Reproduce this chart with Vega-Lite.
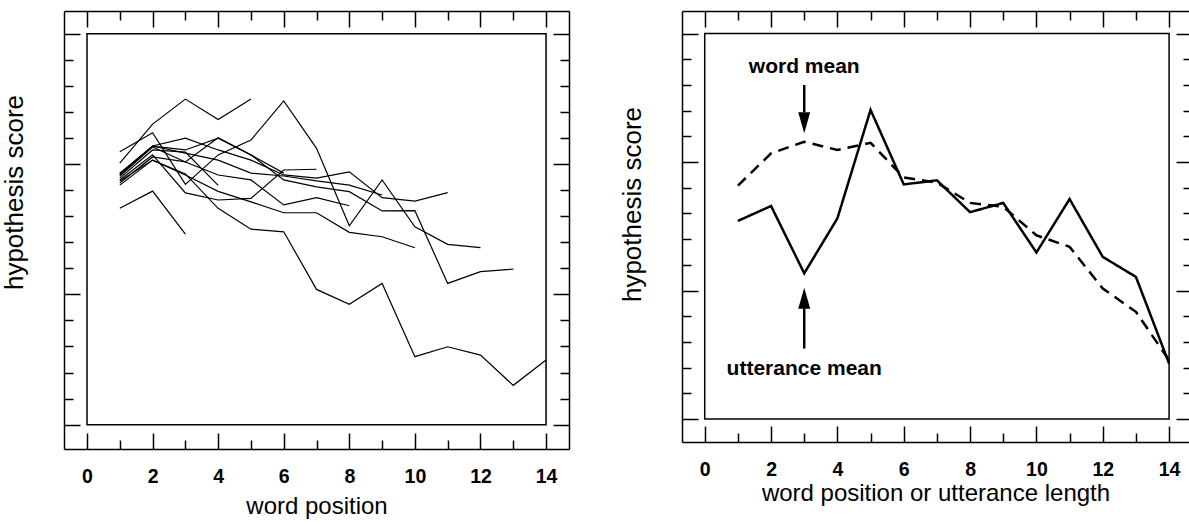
{
  "$schema": "https://vega.github.io/schema/vega-lite/v6.json",
  "padding": {"left": 1, "top": 10, "right": 0, "bottom": 0},
  "background": "white",
  "spacing": 49,
  "config": {
    "view": {"stroke": null},
    "font": "Liberation Sans",
    "axis": {
      "grid": false,
      "domainColor": "black",
      "domainWidth": 1.5,
      "tickColor": "black",
      "tickWidth": 1.5,
      "tickSize": -16,
      "labelColor": "black",
      "titleColor": "black",
      "labelFont": "Liberation Sans",
      "titleFont": "Liberation Sans",
      "labelFontWeight": "bold",
      "labelFontSize": 19.5,
      "titleFontSize": 24,
      "titleFontWeight": "normal",
      "labelFlush": false,
      "labelOverlap": false
    }
  },
  "datasets": {
    "utt": [
      {"L": 3, "pos": 1, "v": 8.30}, {"L": 3, "pos": 2, "v": 8.96}, {"L": 3, "pos": 3, "v": 7.31},
      {"L": 4, "pos": 1, "v": 9.46}, {"L": 4, "pos": 2, "v": 10.54}, {"L": 4, "pos": 3, "v": 10.46}, {"L": 4, "pos": 4, "v": 9.18},
      {"L": 5, "pos": 1, "v": 10.03}, {"L": 5, "pos": 2, "v": 11.53}, {"L": 5, "pos": 3, "v": 12.49}, {"L": 5, "pos": 4, "v": 11.71}, {"L": 5, "pos": 5, "v": 12.49},
      {"L": 6, "pos": 1, "v": 9.58}, {"L": 6, "pos": 2, "v": 10.69}, {"L": 6, "pos": 3, "v": 10.54}, {"L": 6, "pos": 4, "v": 10.99}, {"L": 6, "pos": 5, "v": 10.35}, {"L": 6, "pos": 6, "v": 9.65},
      {"L": 7, "pos": 1, "v": 9.39}, {"L": 7, "pos": 2, "v": 10.35}, {"L": 7, "pos": 3, "v": 8.89}, {"L": 7, "pos": 4, "v": 8.62}, {"L": 7, "pos": 5, "v": 8.68}, {"L": 7, "pos": 6, "v": 9.77}, {"L": 7, "pos": 7, "v": 9.80},
      {"L": 8, "pos": 1, "v": 9.54}, {"L": 8, "pos": 2, "v": 10.65}, {"L": 8, "pos": 3, "v": 10.08}, {"L": 8, "pos": 4, "v": 9.58}, {"L": 8, "pos": 5, "v": 9.39}, {"L": 8, "pos": 6, "v": 8.43}, {"L": 8, "pos": 7, "v": 8.71}, {"L": 8, "pos": 8, "v": 8.40},
      {"L": 9, "pos": 1, "v": 9.65}, {"L": 9, "pos": 2, "v": 10.69}, {"L": 9, "pos": 3, "v": 10.42}, {"L": 9, "pos": 4, "v": 10.15}, {"L": 9, "pos": 5, "v": 9.65}, {"L": 9, "pos": 6, "v": 9.54}, {"L": 9, "pos": 7, "v": 9.35}, {"L": 9, "pos": 8, "v": 9.19}, {"L": 9, "pos": 9, "v": 8.81},
      {"L": 10, "pos": 1, "v": 9.35}, {"L": 10, "pos": 2, "v": 10.15}, {"L": 10, "pos": 3, "v": 9.58}, {"L": 10, "pos": 4, "v": 8.95}, {"L": 10, "pos": 5, "v": 8.55}, {"L": 10, "pos": 6, "v": 8.13}, {"L": 10, "pos": 7, "v": 8.13}, {"L": 10, "pos": 8, "v": 7.38}, {"L": 10, "pos": 9, "v": 7.21}, {"L": 10, "pos": 10, "v": 6.79},
      {"L": 11, "pos": 1, "v": 9.62}, {"L": 11, "pos": 2, "v": 10.69}, {"L": 11, "pos": 3, "v": 10.99}, {"L": 11, "pos": 4, "v": 10.54}, {"L": 11, "pos": 5, "v": 10.15}, {"L": 11, "pos": 6, "v": 9.58}, {"L": 11, "pos": 7, "v": 9.46}, {"L": 11, "pos": 8, "v": 9.70}, {"L": 11, "pos": 9, "v": 8.71}, {"L": 11, "pos": 10, "v": 8.58}, {"L": 11, "pos": 11, "v": 8.90},
      {"L": 12, "pos": 1, "v": 10.47}, {"L": 12, "pos": 2, "v": 11.20}, {"L": 12, "pos": 3, "v": 9.22}, {"L": 12, "pos": 4, "v": 10.35}, {"L": 12, "pos": 5, "v": 10.92}, {"L": 12, "pos": 6, "v": 12.42}, {"L": 12, "pos": 7, "v": 10.60}, {"L": 12, "pos": 8, "v": 7.63}, {"L": 12, "pos": 9, "v": 9.39}, {"L": 12, "pos": 10, "v": 7.59}, {"L": 12, "pos": 11, "v": 6.92}, {"L": 12, "pos": 12, "v": 6.79},
      {"L": 13, "pos": 1, "v": 9.27}, {"L": 13, "pos": 2, "v": 10.27}, {"L": 13, "pos": 3, "v": 10.08}, {"L": 13, "pos": 4, "v": 11.01}, {"L": 13, "pos": 5, "v": 10.35}, {"L": 13, "pos": 6, "v": 9.39}, {"L": 13, "pos": 7, "v": 9.12}, {"L": 13, "pos": 8, "v": 8.94}, {"L": 13, "pos": 9, "v": 8.20}, {"L": 13, "pos": 10, "v": 8.21}, {"L": 13, "pos": 11, "v": 5.42}, {"L": 13, "pos": 12, "v": 5.87}, {"L": 13, "pos": 13, "v": 5.97},
      {"L": 14, "pos": 1, "v": 9.19}, {"L": 14, "pos": 2, "v": 10.15}, {"L": 14, "pos": 3, "v": 9.62}, {"L": 14, "pos": 4, "v": 8.30}, {"L": 14, "pos": 5, "v": 7.50}, {"L": 14, "pos": 6, "v": 7.40}, {"L": 14, "pos": 7, "v": 5.19}, {"L": 14, "pos": 8, "v": 4.62}, {"L": 14, "pos": 9, "v": 5.42}, {"L": 14, "pos": 10, "v": 2.61}, {"L": 14, "pos": 11, "v": 2.99}, {"L": 14, "pos": 12, "v": 2.67}, {"L": 14, "pos": 13, "v": 1.51}, {"L": 14, "pos": 14, "v": 2.48}
    ],
    "means": [
      {"series": "utterance mean", "pos": 1, "v": 7.71}, {"series": "utterance mean", "pos": 2, "v": 8.29}, {"series": "utterance mean", "pos": 3, "v": 5.67}, {"series": "utterance mean", "pos": 4, "v": 7.81}, {"series": "utterance mean", "pos": 5, "v": 12.03}, {"series": "utterance mean", "pos": 6, "v": 9.13}, {"series": "utterance mean", "pos": 7, "v": 9.29}, {"series": "utterance mean", "pos": 8, "v": 8.05}, {"series": "utterance mean", "pos": 9, "v": 8.41}, {"series": "utterance mean", "pos": 10, "v": 6.48}, {"series": "utterance mean", "pos": 11, "v": 8.56}, {"series": "utterance mean", "pos": 12, "v": 6.31}, {"series": "utterance mean", "pos": 13, "v": 5.53}, {"series": "utterance mean", "pos": 14, "v": 2.16},
      {"series": "word mean", "pos": 1, "v": 9.08}, {"series": "word mean", "pos": 2, "v": 10.34}, {"series": "word mean", "pos": 3, "v": 10.79}, {"series": "word mean", "pos": 4, "v": 10.47}, {"series": "word mean", "pos": 5, "v": 10.75}, {"series": "word mean", "pos": 6, "v": 9.40}, {"series": "word mean", "pos": 7, "v": 9.20}, {"series": "word mean", "pos": 8, "v": 8.41}, {"series": "word mean", "pos": 9, "v": 8.26}, {"series": "word mean", "pos": 10, "v": 7.15}, {"series": "word mean", "pos": 11, "v": 6.70}, {"series": "word mean", "pos": 12, "v": 5.08}, {"series": "word mean", "pos": 13, "v": 4.17}, {"series": "word mean", "pos": 14, "v": 2.29}
    ]
  },
  "hconcat": [
    {
      "width": 505,
      "height": 438,
      "resolve": {"axis": {"x": "independent", "y": "independent"}},
      "layer": [
        {
          "data": {"name": "utt"},
          "mark": {"type": "line", "color": "black", "strokeWidth": 1.2},
          "encoding": {
            "x": {
              "field": "pos", "type": "quantitative",
              "scale": {"domain": [-0.702, 14.70], "nice": false, "zero": false},
              "axis": {
                "orient": "bottom",
                "values": [0, 1, 2, 3, 4, 5, 6, 7, 8, 9, 10, 11, 12, 13, 14],
                "labelExpr": "datum.value % 2 === 0 ? datum.label : ''",
                "tickDash": {"condition": {"test": "datum.value % 2 === 1", "value": [9, 40]}, "value": []},
                "labelPadding": 34,
                "title": "word position",
                "titlePadding": 9
              }
            },
            "y": {
              "field": "v", "type": "quantitative",
              "scale": {"domain": [-0.932, 15.87], "nice": false, "zero": false},
              "axis": {
                "orient": "left",
                "values": [0, 1, 2, 3, 4, 5, 6, 7, 8, 9, 10, 11, 12, 13, 14, 15],
                "labels": false,
                "tickDash": {"condition": {"test": "datum.value % 5 !== 0", "value": [9, 40]}, "value": []},
                "title": "hypothesis score",
                "titleFontSize": 26,
                "titleX": -37,
                "titleY": 181
              }
            },
            "detail": {"field": "L", "type": "nominal"}
          }
        },
        {
          "data": {"values": [{"x0": 0, "x1": 14, "y0": 0, "y1": 15}]},
          "mark": {"type": "rect", "filled": false, "color": "black", "strokeWidth": 1.5},
          "encoding": {
            "x": {
              "field": "x0", "type": "quantitative",
              "scale": {"domain": [-0.702, 14.70], "nice": false, "zero": false},
              "axis": {
                "orient": "top",
                "values": [0, 1, 2, 3, 4, 5, 6, 7, 8, 9, 10, 11, 12, 13, 14],
                "labels": false,
                "title": null,
                "tickDash": {"condition": {"test": "datum.value % 2 === 1", "value": [9, 40]}, "value": []}
              }
            },
            "x2": {"field": "x1"},
            "y": {
              "field": "y0", "type": "quantitative",
              "scale": {"domain": [-0.932, 15.87], "nice": false, "zero": false},
              "axis": {
                "orient": "right",
                "values": [0, 1, 2, 3, 4, 5, 6, 7, 8, 9, 10, 11, 12, 13, 14, 15],
                "labels": false,
                "title": null,
                "tickDash": {"condition": {"test": "datum.value % 5 !== 0", "value": [9, 40]}, "value": []}
              }
            },
            "y2": {"field": "y1"}
          }
        }
      ]
    },
    {
      "width": 507,
      "height": 431,
      "resolve": {"axis": {"x": "independent", "y": "independent"}},
      "layer": [
        {
          "data": {"name": "means"},
          "mark": {"type": "line", "color": "black", "strokeWidth": 2.5},
          "encoding": {
            "x": {
              "field": "pos", "type": "quantitative",
              "scale": {"domain": [-0.685, 14.60], "nice": false, "zero": false},
              "axis": {
                "orient": "bottom",
                "values": [0, 1, 2, 3, 4, 5, 6, 7, 8, 9, 10, 11, 12, 13, 14],
                "labelExpr": "datum.value % 2 === 0 ? datum.label : ''",
                "tickDash": {"condition": {"test": "datum.value % 2 === 1", "value": [9, 40]}, "value": []},
                "labelPadding": 34,
                "title": "word position or utterance length",
                "titlePadding": 3
              }
            },
            "y": {
              "field": "v", "type": "quantitative",
              "scale": {"domain": [-0.896, 15.88], "nice": false, "zero": false},
              "axis": {
                "orient": "left",
                "values": [0, 1, 2, 3, 4, 5, 6, 7, 8, 9, 10, 11, 12, 13, 14, 15],
                "labels": false,
                "tickDash": {"condition": {"test": "datum.value % 5 !== 0", "value": [9, 40]}, "value": []},
                "title": "hypothesis score",
                "titleFontSize": 26,
                "titleX": -37,
                "titleY": 193
              }
            },
            "strokeDash": {
              "field": "series", "type": "nominal",
              "scale": {"domain": ["utterance mean", "word mean"], "range": [[1, 0], [11, 7]]},
              "legend": null
            }
          }
        },
        {
          "data": {"values": [{"x0": 0, "x1": 14, "y0": 0, "y1": 15}]},
          "mark": {"type": "rect", "filled": false, "color": "black", "strokeWidth": 1.5},
          "encoding": {
            "x": {
              "field": "x0", "type": "quantitative",
              "scale": {"domain": [-0.685, 14.60], "nice": false, "zero": false},
              "axis": {
                "orient": "top",
                "values": [0, 1, 2, 3, 4, 5, 6, 7, 8, 9, 10, 11, 12, 13, 14],
                "labels": false,
                "title": null,
                "tickDash": {"condition": {"test": "datum.value % 2 === 1", "value": [9, 40]}, "value": []}
              }
            },
            "x2": {"field": "x1"},
            "y": {
              "field": "y0", "type": "quantitative",
              "scale": {"domain": [-0.896, 15.88], "nice": false, "zero": false},
              "axis": {
                "orient": "right",
                "values": [0, 1, 2, 3, 4, 5, 6, 7, 8, 9, 10, 11, 12, 13, 14, 15],
                "labels": false,
                "title": null,
                "domain": false,
                "tickSize": -13,
                "tickDash": {"condition": {"test": "datum.value % 5 !== 0", "value": [6, 40]}, "value": []}
              }
            },
            "y2": {"field": "y1"}
          }
        },
        {
          "data": {"values": [{"x": 3, "y": 13.0, "y2": 11.94}, {"x": 3, "y": 2.74, "y2": 4.31}]},
          "mark": {"type": "rule", "color": "black", "strokeWidth": 2.5},
          "encoding": {
            "x": {"field": "x", "type": "quantitative", "axis": null},
            "y": {"field": "y", "type": "quantitative", "axis": null},
            "y2": {"field": "y2"}
          }
        },
        {
          "data": {"values": [{"x": 3, "y": 11.53, "dir": "down"}, {"x": 3, "y": 4.70, "dir": "up"}]},
          "mark": {"type": "point", "filled": true, "color": "black", "size": 441, "opacity": 1, "strokeWidth": 0},
          "encoding": {
            "x": {"field": "x", "type": "quantitative", "axis": null},
            "y": {"field": "y", "type": "quantitative", "axis": null},
            "shape": {
              "field": "dir", "type": "nominal",
              "scale": {"domain": ["down", "up"], "range": ["M-0.57,-1L0.57,-1L0,1Z", "M-0.57,1L0.57,1L0,-1Z"]},
              "legend": null
            }
          }
        },
        {
          "data": {"values": [{"x": 3, "y": 13.71, "label": "word mean"}, {"x": 3, "y": 1.96, "label": "utterance mean"}]},
          "mark": {"type": "text", "color": "black", "font": "Liberation Sans", "fontWeight": "bold", "fontSize": 21, "align": "center", "baseline": "middle"},
          "encoding": {
            "x": {"field": "x", "type": "quantitative", "axis": null},
            "y": {"field": "y", "type": "quantitative", "axis": null},
            "text": {"field": "label"}
          }
        }
      ]
    }
  ]
}
